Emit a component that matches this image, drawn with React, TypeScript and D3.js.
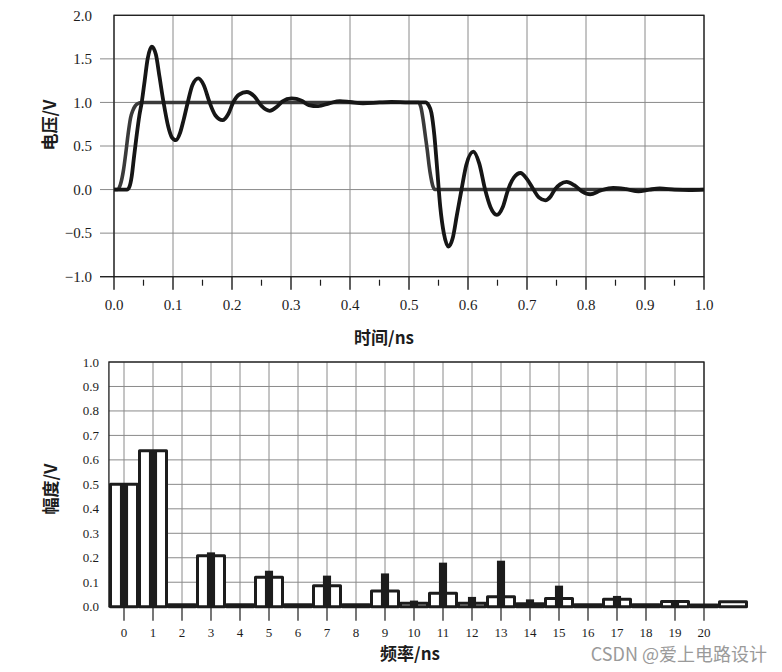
import React from 'react';
import * as d3 from 'd3';

// ---------- Top chart data (time domain) ----------
const ringTime = [0, 0.022, 0.026, 0.03, 0.034, 0.038, 0.043, 0.047, 0.052, 0.057, 0.064, 0.071, 0.077, 0.084, 0.092, 0.098, 0.105, 0.112, 0.118, 0.125, 0.133, 0.143, 0.152, 0.162, 0.172, 0.184, 0.194, 0.202, 0.212, 0.225, 0.238, 0.25, 0.264, 0.276, 0.285, 0.301, 0.318, 0.33, 0.346, 0.365, 0.383, 0.4, 0.422, 0.45, 0.47, 0.5, 0.528, 0.533, 0.538, 0.543, 0.547, 0.553, 0.559, 0.567, 0.574, 0.581, 0.589, 0.597, 0.609, 0.619, 0.629, 0.638, 0.649, 0.659, 0.668, 0.678, 0.689, 0.7, 0.711, 0.72, 0.731, 0.74, 0.747, 0.756, 0.767, 0.78, 0.793, 0.807, 0.825, 0.846, 0.868, 0.889, 0.908, 0.925, 0.95, 0.975, 1.0];
const ringVolt = [0, 0, 0.03, 0.15, 0.38, 0.6, 0.85, 1.0, 1.25, 1.5, 1.64, 1.55, 1.3, 1.0, 0.72, 0.6, 0.567, 0.65, 0.8, 1.0, 1.2, 1.276, 1.2, 1.0, 0.85, 0.797, 0.87, 1.0, 1.09, 1.12, 1.07, 0.96, 0.904, 0.95, 1.01, 1.046, 1.02, 0.97, 0.957, 0.99, 1.015, 1.005, 0.99, 1.0, 1.005, 1.0, 1.0, 0.97, 0.88, 0.62, 0.3, -0.2, -0.5, -0.655, -0.56, -0.3, 0.0, 0.28, 0.435, 0.3, 0.0, -0.2, -0.29, -0.2, 0.0, 0.14, 0.19, 0.12, 0.0, -0.09, -0.123, -0.08, 0.0, 0.06, 0.088, 0.05, -0.02, -0.054, -0.01, 0.02, 0.005, -0.02, 0.0, 0.012, 0.0, -0.005, 0.0];

const stepTime = [0, 0.006, 0.011, 0.016, 0.02, 0.024, 0.028, 0.032, 0.036, 0.04, 0.045, 0.516, 0.52, 0.524, 0.528, 0.531, 0.534, 0.537, 0.54, 0.544, 1.0];
const stepVolt = [0, 0, 0.06, 0.22, 0.42, 0.64, 0.82, 0.91, 0.96, 0.985, 1.0, 1.0, 0.95, 0.8, 0.6, 0.45, 0.28, 0.145, 0.05, 0, 0];

const topXTicks = [0, 0.1, 0.2, 0.3, 0.4, 0.5, 0.6, 0.7, 0.8, 0.9, 1.0];
const topXMinor = [0.05, 0.15, 0.25, 0.35, 0.45, 0.55, 0.65, 0.75, 0.85, 0.95];
const topYTicks = [-1.0, -0.5, 0.0, 0.5, 1.0, 1.5, 2.0];

// ---------- Bottom chart data (spectrum) ----------
const harmonicsOutline = [0, 1, 2, 3, 4, 5, 6, 7, 8, 9, 10, 11, 12, 13, 14, 15, 16, 17, 18, 19, 20, 21];
const outlineAmp = [0.5, 0.637, 0.008, 0.208, 0.008, 0.12, 0.008, 0.086, 0.008, 0.064, 0.014, 0.055, 0.014, 0.041, 0.012, 0.034, 0.008, 0.03, 0.008, 0.021, 0.007, 0.02];
const harmonicsSolid = [0, 1, 2, 3, 4, 5, 6, 7, 8, 9, 10, 11, 12, 13, 14, 15, 16, 17, 18, 19, 20];
const solidAmp = [0.5, 0.637, 0.004, 0.222, 0.004, 0.147, 0.004, 0.127, 0.004, 0.136, 0.025, 0.18, 0.04, 0.188, 0.03, 0.086, 0.004, 0.044, 0.004, 0.02, 0.004];

const botXTicks = [0, 1, 2, 3, 4, 5, 6, 7, 8, 9, 10, 11, 12, 13, 14, 15, 16, 17, 18, 19, 20];
const botYTicks = [0, 0.1, 0.2, 0.3, 0.4, 0.5, 0.6, 0.7, 0.8, 0.9, 1.0];

const serif = '"Liberation Serif", "DejaVu Serif", serif';
const cjk = '"Noto Sans CJK SC", "Noto Sans", sans-serif';
const gridColor = '#8a8a8a';
const ink = '#1c1c1c';

export default function App() {
  const f1 = d3.format('.1f');

  // top scales
  const xT = d3.scaleLinear().domain([0, 1]).range([114, 704]);
  const yT = d3.scaleLinear().domain([-1, 2]).range([276.7, 15.3]);
  const line = d3
    .line<number>()
    .x((_, i) => 0)
    .curve(d3.curveMonotoneX);

  const mkPath = (ts: number[], vs: number[]) =>
    d3
      .line<[number, number]>()
      .x((d) => xT(d[0]))
      .y((d) => yT(d[1]))
      .curve(d3.curveMonotoneX)(ts.map((t, i) => [t, vs[i]] as [number, number])) || '';

  // bottom scales
  const xB = d3.scaleLinear().domain([-0.52, 20]).range([124 - 0.52 * 29, 704]);
  const yB = d3.scaleLinear().domain([0, 1]).range([606.7, 362]);
  const unit = xB(1) - xB(0);
  const solidW = unit * 0.28;

  const [tx0, tx1] = xT.range();
  const [ty0, ty1] = [yT(-1), yT(2)];
  const [bx0, bx1] = [xB(-0.52), xB(20)];
  const [by0, by1] = [yB(0), yB(1)];

  return (
    <svg
      width={782}
      height={672}
      style={{ position: 'absolute', left: 0, top: 0, background: '#fff' }}
    >
      <rect x={0} y={0} width={782} height={672} fill="#fff" />

      {/* ================= TOP CHART ================= */}
      <g>
        {topXTicks.map((t) => (
          <line key={'tvg' + t} x1={xT(t)} x2={xT(t)} y1={ty1} y2={ty0 + 13} stroke={gridColor} strokeWidth={1} />
        ))}
        {topYTicks.map((v) => (
          <line key={'thg' + v} x1={v === 2 ? tx0 : tx0 - 14} x2={tx1} y1={yT(v)} y2={yT(v)} stroke={gridColor} strokeWidth={1} />
        ))}
        {topXMinor.map((t) => (
          <line key={'tmn' + t} x1={xT(t)} x2={xT(t)} y1={ty0 + 3} y2={ty0 + 9} stroke={ink} strokeWidth={1.2} />
        ))}
        {topXTicks.map((t) => (
          <line key={'tmj' + t} x1={xT(t)} x2={xT(t)} y1={ty0} y2={ty0 + 13} stroke={ink} strokeWidth={1.2} />
        ))}
        <rect x={tx0} y={ty1} width={tx1 - tx0} height={ty0 - ty1} fill="none" stroke={ink} strokeWidth={1.3} />
        <line x1={tx0 - 14} x2={tx0} y1={ty0} y2={ty0} stroke={ink} strokeWidth={1.3} />

        <path d={mkPath(stepTime, stepVolt)} fill="none" stroke="#3a3a3a" strokeWidth={3.6} strokeLinejoin="round" />
        <path d={mkPath(ringTime, ringVolt)} fill="none" stroke="#161616" strokeWidth={3.8} strokeLinejoin="round" />

        {topYTicks.map((v) => (
          <text key={'tyl' + v} x={92} y={yT(v)} dy="0.35em" textAnchor="end" fontFamily={serif} fontSize={15} fill={ink}>
            {f1(v)}
          </text>
        ))}
        {topXTicks.map((t) => (
          <text key={'txl' + t} x={xT(t)} y={305} dy="0.35em" textAnchor="middle" fontFamily={serif} fontSize={15} fill={ink}>
            {f1(t)}
          </text>
        ))}
        <text x={384} y={338} dy="0.35em" textAnchor="middle" fontFamily={cjk} fontWeight={700} fontSize={17} fill={ink}>
          时间/ns
        </text>
        <text
          transform={`translate(50,125) rotate(-90)`}
          dy="0.35em"
          textAnchor="middle"
          fontFamily={cjk}
          fontWeight={700}
          fontSize={17}
          fill={ink}
        >
          电压/V
        </text>
      </g>

      {/* ================= BOTTOM CHART ================= */}
      <g>
        {botXTicks.map((n) => (
          <line key={'bvg' + n} x1={xB(n)} x2={xB(n)} y1={by1} y2={by0} stroke={gridColor} strokeWidth={1} />
        ))}
        {botYTicks.map((v) => (
          <line key={'bhg' + v} x1={bx0} x2={bx1} y1={yB(v)} y2={yB(v)} stroke={gridColor} strokeWidth={1} />
        ))}
        {botXTicks.map((n) => (
          <line key={'btk' + n} x1={xB(n)} x2={xB(n)} y1={by0} y2={by0 + 14} stroke={ink} strokeWidth={1.2} />
        ))}
        <rect x={bx0} y={by1} width={bx1 - bx0} height={by0 - by1} fill="none" stroke={ink} strokeWidth={1.3} />

        {harmonicsOutline.map((n, i) => (
          <rect
            key={'ob' + n}
            x={xB(n - 0.5) + 1}
            y={yB(outlineAmp[i])}
            width={unit - 2}
            height={by0 - yB(outlineAmp[i])}
            fill="#fff"
            stroke={ink}
            strokeWidth={3}
            strokeLinejoin="round"
          />
        ))}
        {harmonicsSolid.map((n, i) => (
          <rect
            key={'sb' + n}
            x={xB(n) - solidW / 2}
            y={yB(solidAmp[i])}
            width={solidW}
            height={by0 - yB(solidAmp[i])}
            fill={ink}
          />
        ))}

        {botYTicks.map((v) => (
          <text key={'byl' + v} x={99} y={yB(v)} dy="0.35em" textAnchor="end" fontFamily={serif} fontSize={13} fill={ink}>
            {f1(v)}
          </text>
        ))}
        {botXTicks.map((n) => (
          <text key={'bxl' + n} x={xB(n)} y={632} dy="0.35em" textAnchor="middle" fontFamily={serif} fontSize={13} fill={ink}>
            {n}
          </text>
        ))}
        <text x={410} y={654} dy="0.35em" textAnchor="middle" fontFamily={cjk} fontWeight={700} fontSize={17} fill={ink}>
          频率/ns
        </text>
        <text
          transform={`translate(51,489) rotate(-90)`}
          dy="0.35em"
          textAnchor="middle"
          fontFamily={cjk}
          fontWeight={700}
          fontSize={17}
          fill={ink}
        >
          幅度/V
        </text>
      </g>

      <text x={767} y={655} dy="0.35em" textAnchor="end" fontFamily={cjk} fontSize={18} fill="#9a9a9a">
        CSDN @爱上电路设计
      </text>
    </svg>
  );
}
